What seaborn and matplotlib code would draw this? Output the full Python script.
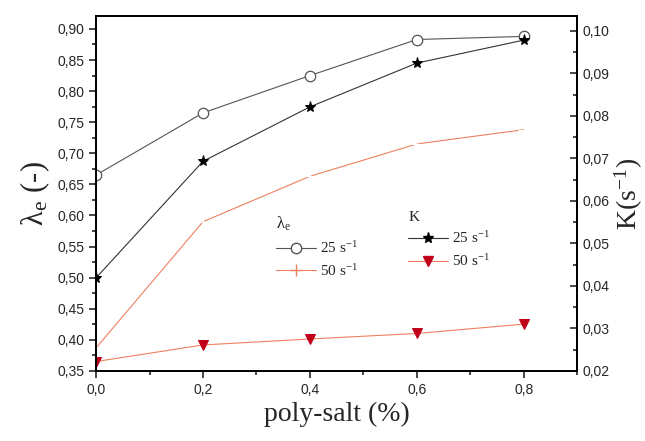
import numpy as np
import pandas as pd
import seaborn as sns
import matplotlib.pyplot as plt
from matplotlib.ticker import MultipleLocator, FuncFormatter
from matplotlib.lines import Line2D

poly_salt = [0.0, 0.2, 0.4, 0.6, 0.8]
lambda_25 = [0.665, 0.765, 0.825, 0.883, 0.888]
lambda_50 = [0.387, 0.590, 0.663, 0.715, 0.738]
k_25 = [0.0419, 0.0693, 0.0821, 0.0924, 0.0978]
k_50 = [0.0222, 0.0261, 0.0275, 0.0288, 0.0310]

df_lam = pd.DataFrame({'x': poly_salt * 2,
                       'y': lambda_25 + lambda_50,
                       'rate': ['25'] * 5 + ['50'] * 5})
df_k = pd.DataFrame({'x': poly_salt * 2,
                     'y': k_25 + k_50,
                     'rate': ['25'] * 5 + ['50'] * 5})

sns.set_style('ticks')
plt.rcParams['font.family'] = ['Liberation Sans', 'DejaVu Sans']
plt.rcParams['mathtext.fontset'] = 'stix'

fig = plt.figure(figsize=(6.45, 4.41), dpi=100)
ax = fig.add_axes([0.149, 0.159, 0.746, 0.805])
ax2 = ax.twinx()

lam_col = '#555555'
salmon = '#ee8060'
dark_red = '#c0001a'

sns.lineplot(data=df_lam[df_lam.rate == '25'], x='x', y='y', ax=ax, color=lam_col,
             lw=0.8, marker='o', markersize=7.5, markerfacecolor='white',
             markeredgecolor=lam_col, markeredgewidth=0.9)
sns.lineplot(data=df_lam[df_lam.rate == '50'], x='x', y='y', ax=ax, color=salmon,
             lw=0.8, marker='+', markersize=8, markeredgewidth=0.8)
sns.lineplot(data=df_k[df_k.rate == '25'], x='x', y='y', ax=ax2, color='#333333',
             lw=0.8, marker='*', markersize=8, markerfacecolor='black',
             markeredgecolor='black')
sns.lineplot(data=df_k[df_k.rate == '50'], x='x', y='y', ax=ax2, color=salmon,
             lw=0.8, marker='v', markersize=7, markerfacecolor=dark_red,
             markeredgecolor=dark_red)

comma = FuncFormatter(lambda v, p: ('%.1f' % v).replace('.', ','))
comma2 = FuncFormatter(lambda v, p: ('%.2f' % v).replace('.', ','))

ax.set_xlim(0, 0.9)
ax.set_ylim(0.35, 0.921)
ax2.set_ylim(0.02, 0.1035)

ax.xaxis.set_major_locator(MultipleLocator(0.2))
ax.xaxis.set_minor_locator(MultipleLocator(0.1))
ax.xaxis.set_major_formatter(comma)
ax.yaxis.set_major_locator(MultipleLocator(0.05))
ax.yaxis.set_minor_locator(MultipleLocator(0.025))
ax.yaxis.set_major_formatter(comma2)
ax2.yaxis.set_major_locator(MultipleLocator(0.01))
ax2.yaxis.set_minor_locator(MultipleLocator(0.005))
ax2.yaxis.set_major_formatter(comma2)

ax.tick_params(axis='x', which='major', direction='out', length=5, width=1.2, labelsize=10)
ax.tick_params(axis='x', which='minor', direction='out', length=3, width=1.2)
ax.tick_params(axis='y', which='major', direction='out', length=5, width=1.2, labelsize=10)
ax.tick_params(axis='y', which='minor', direction='out', length=3, width=1.2)
ax2.tick_params(axis='y', which='major', direction='in', length=5, width=1.2, labelsize=10)
ax2.tick_params(axis='y', which='minor', direction='in', length=3, width=1.2)

for a in (ax, ax2):
    for s in a.spines.values():
        s.set_visible(True)
        s.set_linewidth(1.3)
        s.set_color('black')

ax.set_xlabel('poly-salt (%)', family='Liberation Serif', fontsize=20)
ax.set_ylabel(r'λ$_\mathregular{e}$ (-)', family='Liberation Serif', fontsize=22)
ax2.set_ylabel(r'K(s$^\mathregular{-1}$)', family='Liberation Serif', fontsize=20, labelpad=2)

h1 = [Line2D([], [], color=lam_col, lw=0.8, marker='o', markersize=7.5,
             markerfacecolor='white', markeredgecolor=lam_col),
      Line2D([], [], color=salmon, lw=0.8, marker='+', markersize=8)]
h2 = [Line2D([], [], color='#333333', lw=0.8, marker='*', markersize=8,
             markerfacecolor='black', markeredgecolor='black'),
      Line2D([], [], color=salmon, lw=0.8, marker='v', markersize=7,
             markerfacecolor=dark_red, markeredgecolor=dark_red)]
labels = [r'25 s$^\mathregular{-1}$', r'50 s$^\mathregular{-1}$']
leg_font = {'family': 'Liberation Serif', 'size': 11}

leg1 = ax.legend(h1, labels, title=r'λ$_\mathregular{e}$', prop=leg_font, frameon=False,
                 loc='upper left', bbox_to_anchor=(0.345, 0.478),
                 handlelength=2.6, handletextpad=0.3, labelspacing=0.4,
                 title_fontproperties={'family': 'Liberation Serif', 'size': 12})
leg1._legend_box.align = 'left'
leg2 = ax2.legend(h2, labels, title='K', prop=leg_font, frameon=False,
                  loc='upper left', bbox_to_anchor=(0.62, 0.49),
                  handlelength=2.6, handletextpad=0.3, labelspacing=0.4,
                  title_fontproperties={'family': 'Liberation Serif', 'size': 11})
leg2._legend_box.align = 'left'

fig.savefig('out.png', dpi=100)
